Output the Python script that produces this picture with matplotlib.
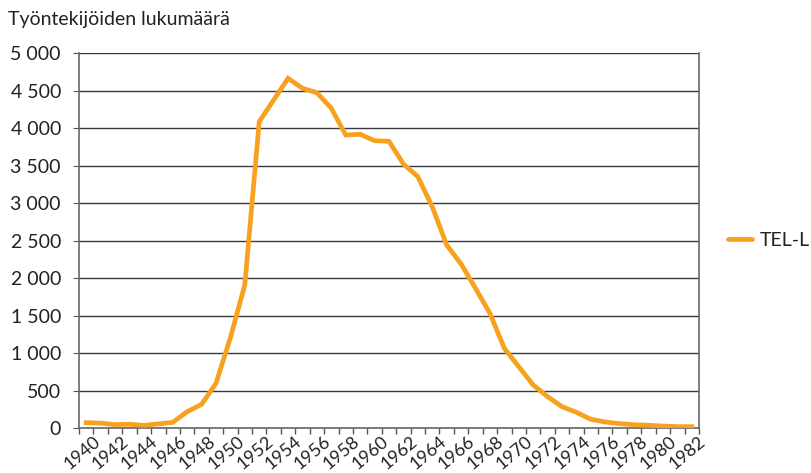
import numpy as np
import matplotlib
matplotlib.use('Agg')
import matplotlib.pyplot as plt
from matplotlib.ticker import FuncFormatter, FixedLocator
from matplotlib.lines import Line2D

plt.rcParams['font.family'] = ['Lato', 'DejaVu Sans']

years = list(range(1940, 1983))
tel_l = [71, 65, 45, 50, 35, 55, 75, 217, 315, 595,
         1204, 1910, 4085, 4373, 4662, 4529, 4471, 4262, 3907, 3916,
         3831, 3822, 3520, 3351, 2951, 2440, 2187, 1862, 1529, 1062,
         818, 573, 418, 284, 209, 116, 80, 58, 44, 36,
         26, 18, 18]
y_ticks = [0, 500, 1000, 1500, 2000, 2500, 3000, 3500, 4000, 4500, 5000]
title = "Työntekijöiden lukumäärä"
series_name = "TEL-L"

fig = plt.figure(figsize=(8.11, 4.73), dpi=100)
ax = fig.add_axes([79 / 811, 1 - 428 / 473, 620 / 811, 375 / 473])

x = np.arange(len(years))
ax.plot(x, tel_l, color="#F7A11E", lw=3.4, solid_joinstyle='miter', zorder=3)

ax.set_xlim(-0.5, len(years) - 0.5)
ax.set_ylim(0, 5000)

ax.set_yticks(y_ticks)
ax.yaxis.set_major_formatter(FuncFormatter(lambda v, p: f"{int(v):,}".replace(",", " ")))
ax.grid(axis='y', color='#3a3a3a', lw=1)
ax.set_axisbelow(True)

# category boundaries get the tick marks, every other year gets a label
ax.xaxis.set_major_locator(FixedLocator(np.arange(-0.5, len(years), 1)))
ax.xaxis.set_major_formatter(FuncFormatter(lambda v, p: ""))
ax.set_xticks(x[::2] + 0.45, minor=True)
ax.set_xticklabels([str(y) for y in years[::2]], minor=True, rotation=40,
                   ha='right', va='top', rotation_mode='anchor', fontsize=13,
                   color='#222222')
ax.tick_params(axis='x', which='minor', length=0, pad=4)
ax.tick_params(axis='x', which='major', length=4, color='#555555', width=1)
ax.tick_params(axis='y', length=4, color='#555555', labelsize=14, pad=9,
               labelcolor='#222222')

ax.spines['top'].set_visible(False)
for s in ['left', 'right', 'bottom']:
    ax.spines[s].set_color('#666666')
    ax.spines[s].set_linewidth(1.2)

fig.text(8 / 811, 1 - 20 / 473, title, fontsize=14, va='center', ha='left', color='#222222')

handle = Line2D([], [], color="#F7A11E", lw=3.4, solid_capstyle='round')
fig.legend([handle], [series_name], loc='center left', bbox_to_anchor=(728 / 811, 1 - 240 / 473),
           frameon=False, fontsize=14, handlelength=1.25, handletextpad=0.4,
           borderpad=0, borderaxespad=0, labelcolor='#222222')

plt.savefig("out.png", dpi=100)
